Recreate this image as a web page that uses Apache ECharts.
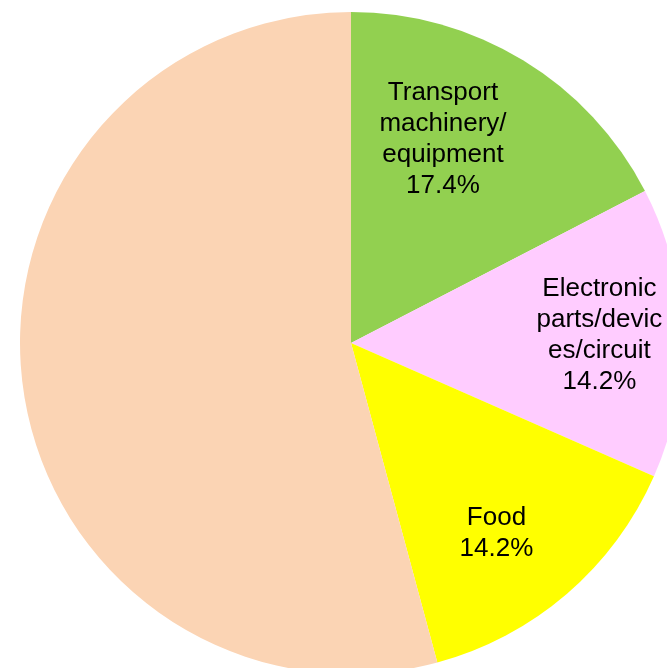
<!DOCTYPE html>
<html>
<head>
<meta charset="utf-8">
<script src="https://cdn.jsdelivr.net/npm/echarts@6/dist/echarts.min.js"></script>
<style>
  html, body { margin: 0; padding: 0; background: #ffffff; }
  #chart { width: 667px; height: 668px; }
</style>
</head>
<body>
<div id="chart"></div>
<script>
// Share of shipments by product group (%)
const categories = [
  'Transport\nmachinery/\nequipment',
  'Electronic\nparts/devic\nes/circuit',
  'Food',
  'Others'
];
const shares = [17.4, 14.2, 14.2, 54.2];
const sliceColors = ['#92d050', '#ffccff', '#ffff00', '#fbd4b4'];
const showLabel = [true, true, true, false];

// Small nudges for the in-slice labels (pixels)
const labelNudge = [[-32, 0], [10, 0], [-10, 9], [0, 0]];

const pieData = categories.map((name, i) => ({
  name: name,
  value: shares[i],
  itemStyle: { color: sliceColors[i] }
}));

const labelData = categories.map((name, i) => ({
  name: name,
  value: shares[i],
  label: { show: showLabel[i] }
}));

const center = [351, 343];
const outer = 331;

const chart = echarts.init(document.getElementById('chart'), null, { renderer: 'canvas' });
chart.setOption({
  animation: false,
  backgroundColor: '#ffffff',
  series: [
    {
      type: 'pie',
      center: center,
      radius: [0, outer],
      startAngle: 90,
      clockwise: true,
      silent: true,
      data: pieData,
      itemStyle: { borderWidth: 0 },
      label: { show: false },
      labelLine: { show: false },
      emphasis: { disabled: true }
    },
    {
      // transparent ring that carries the labels at a larger radius
      type: 'pie',
      center: center,
      radius: [140, outer],
      startAngle: 90,
      clockwise: true,
      silent: true,
      data: labelData,
      itemStyle: { color: 'rgba(0,0,0,0)', borderWidth: 0 },
      label: {
        position: 'inside',
        formatter: '{b}\n{c}%',
        fontFamily: 'Liberation Sans, Arial, sans-serif',
        fontSize: 26,
        lineHeight: 31,
        color: '#000000',
        align: 'center'
      },
      labelLine: { show: false },
      labelLayout: function (params) {
        const n = labelNudge[params.dataIndex] || [0, 0];
        return { dx: n[0], dy: n[1] };
      },
      emphasis: { disabled: true }
    }
  ]
});
</script>
</body>
</html>
